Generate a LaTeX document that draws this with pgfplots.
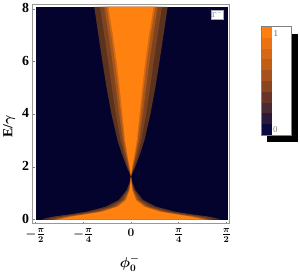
\documentclass[border=0pt]{standalone}
\usepackage{pgfplots}
\pgfplotsset{compat=1.18}
\usepackage{amsmath}
\usepackage{bm}
\usepackage{fontspec}
\setmainfont{Liberation Serif}
\definecolor{navy}{HTML}{03032E}
\definecolor{b1}{HTML}{5A321E}
\definecolor{b2}{HTML}{7E4420}
\definecolor{b3}{HTML}{A8561A}
\definecolor{b4}{HTML}{D46A14}
\definecolor{org}{HTML}{FF8210}
\definecolor{cb0}{HTML}{0A0A40}
\definecolor{cb1}{HTML}{2A1A3A}
\definecolor{cb2}{HTML}{4A2A33}
\definecolor{cb3}{HTML}{6A3528}
\definecolor{cb4}{HTML}{8A4520}
\definecolor{cb5}{HTML}{A5521C}
\definecolor{cb6}{HTML}{C05E18}
\definecolor{cb7}{HTML}{D66815}
\definecolor{cb8}{HTML}{EA7212}
\definecolor{cb9}{HTML}{FF7F0E}
\begin{document}
\begin{tikzpicture}
\begin{axis}[
  width=199pt, height=221pt, scale only axis,
  xmin=-1.62, xmax=1.625, ymin=-0.15, ymax=8.16,
  axis on top,
  axis line style={draw=gray!80, line width=0.8pt},
  tick style={draw=gray, line width=0.5pt},
  major tick length=2pt, tick align=inside, tick pos=left,
  xtick={-1.5708,-0.7854,0,0.7854,1.5708},
  xticklabels={$-\frac{\pi}{2}$,$-\frac{\pi}{4}$,$0$,$\frac{\pi}{4}$,$\frac{\pi}{2}$},
  ytick={0,2,4,6,8},
  yticklabels={0,2,4,6,8},
  xticklabel style={font=\boldmath\fontsize{13}{13}\selectfont, yshift=-1.5pt},
  yticklabel style={font=\bfseries\fontsize{14}{14}\selectfont, yshift=1pt},
]
% background
\addplot[fill=navy, draw=none] coordinates {(-1.57,0) (1.60,0) (1.60,8.08) (-1.57,8.08)};
% upper region
\addplot[fill=b1, draw=none] coordinates {(0,1.65) (0.07,2) (0.15,2.5) (0.22,3) (0.32,4) (0.40,5) (0.47,6) (0.535,7) (0.60,8) (0.605,8.08)
 (-0.605,8.08) (-0.60,8) (-0.535,7) (-0.47,6) (-0.40,5) (-0.32,4) (-0.22,3) (-0.15,2.5) (-0.07,2)};
\addplot[fill=b2, draw=none] coordinates {(0,1.65) (0.05,2) (0.114,2.5) (0.17,3) (0.248,4) (0.314,5) (0.376,6) (0.439,7) (0.506,8) (0.511,8.08)
 (-0.511,8.08) (-0.506,8) (-0.439,7) (-0.376,6) (-0.314,5) (-0.248,4) (-0.17,3) (-0.114,2.5) (-0.05,2)};
\addplot[fill=b3, draw=none] coordinates {(0,1.65) (0.035,2) (0.087,2.5) (0.133,3) (0.194,4) (0.25,5) (0.306,6) (0.367,7) (0.436,8) (0.44,8.08)
 (-0.44,8.08) (-0.436,8) (-0.367,7) (-0.306,6) (-0.25,5) (-0.194,4) (-0.133,3) (-0.087,2.5) (-0.035,2)};
\addplot[fill=b4, draw=none] coordinates {(0,1.65) (0.026,2) (0.071,2.5) (0.11,3) (0.162,4) (0.211,5) (0.263,6) (0.324,7) (0.394,8) (0.398,8.08)
 (-0.398,8.08) (-0.394,8) (-0.324,7) (-0.263,6) (-0.211,5) (-0.162,4) (-0.11,3) (-0.071,2.5) (-0.026,2)};
\addplot[fill=org, draw=none] coordinates {(0,1.7) (0.02,2) (0.06,2.5) (0.095,3) (0.14,4) (0.185,5) (0.235,6) (0.295,7) (0.366,8) (0.37,8.08)
 (-0.37,8.08) (-0.366,8) (-0.295,7) (-0.235,6) (-0.185,5) (-0.14,4) (-0.095,3) (-0.06,2.5) (-0.02,2)};
% lower region
\addplot[fill=b1, draw=none] coordinates {(1.48,0) (1.44,0.03) (1.38,0.07) (1.28,0.12) (1.02,0.2) (0.72,0.31) (0.41,0.5) (0.2,0.75) (0.07,1.13) (0.025,1.4) (0,1.65)
 (-0.025,1.4) (-0.07,1.13) (-0.2,0.75) (-0.41,0.5) (-0.72,0.31) (-1.02,0.2) (-1.28,0.12) (-1.38,0.07) (-1.44,0.03) (-1.48,0)};
\addplot[fill=b2, draw=none] coordinates {(1.376,0) (1.324,0.03) (1.256,0.07) (1.156,0.12) (0.908,0.2) (0.616,0.31) (0.33,0.5) (0.152,0.75) (0.05,1.13) (0.017,1.4) (0,1.65)
 (-0.017,1.4) (-0.05,1.13) (-0.152,0.75) (-0.33,0.5) (-0.616,0.31) (-0.908,0.2) (-1.156,0.12) (-1.256,0.07) (-1.324,0.03) (-1.376,0)};
\addplot[fill=b3, draw=none] coordinates {(1.298,0) (1.237,0.03) (1.163,0.07) (1.063,0.12) (0.824,0.2) (0.538,0.31) (0.27,0.5) (0.116,0.75) (0.035,1.13) (0.012,1.4) (0,1.65)
 (-0.012,1.4) (-0.035,1.13) (-0.116,0.75) (-0.27,0.5) (-0.538,0.31) (-0.824,0.2) (-1.063,0.12) (-1.163,0.07) (-1.237,0.03) (-1.298,0)};
\addplot[fill=b4, draw=none] coordinates {(1.251,0) (1.185,0.03) (1.107,0.07) (1.007,0.12) (0.774,0.2) (0.491,0.31) (0.234,0.5) (0.094,0.75) (0.026,1.13) (0.008,1.4) (0,1.65)
 (-0.008,1.4) (-0.026,1.13) (-0.094,0.75) (-0.234,0.5) (-0.491,0.31) (-0.774,0.2) (-1.007,0.12) (-1.107,0.07) (-1.185,0.03) (-1.251,0)};
\addplot[fill=org, draw=none] coordinates {(1.22,0) (1.15,0.03) (1.07,0.07) (0.97,0.12) (0.74,0.2) (0.46,0.31) (0.21,0.5) (0.08,0.75) (0.02,1.13) (0.006,1.4) (0,1.6)
 (-0.006,1.4) (-0.02,1.13) (-0.08,0.75) (-0.21,0.5) (-0.46,0.31) (-0.74,0.2) (-0.97,0.12) (-1.07,0.07) (-1.15,0.03) (-1.22,0)};
\node[fill=white, draw=gray!70, line width=0.4pt, inner sep=1pt, text=gray!80!blue, font=\fontsize{7}{7}\selectfont] at (axis cs:1.42,7.78) {$\Gamma^{-}$};
\end{axis}
\begin{scope}[x=1pt,y=1pt]
\path (-30,-49) rectangle (270,224);
\node[font=\bfseries\fontsize{14}{14}\selectfont, rotate=90] at (-23.5,98) {E/$\bm{\gamma}$};
\node[font=\fontsize{14}{14}\selectfont] at (98,-40) {$\bm{\phi_0^-}$};
% colour key
\fill[black] (236.7,82) rectangle (268,191.3);
\fill[white] (230.7,89) rectangle (261.7,199);
\foreach \i/\c in {0/cb0,1/cb1,2/cb2,3/cb3,4/cb4,5/cb5,6/cb6,7/cb7,8/cb8,9/cb9}
  \fill[\c] (231,{89.5+10.9*\i}) rectangle (241.5,{100.4+10.9*\i});
\draw[gray, line width=0.6pt] (230.7,89) rectangle (261.7,199);
\node[font=\fontsize{9}{9}\selectfont, text=gray!70!blue] at (245.5,192) {1};
\node[font=\fontsize{9}{9}\selectfont, text=gray!60!brown] at (245,95) {0};
\end{scope}
\end{tikzpicture}
\end{document}
